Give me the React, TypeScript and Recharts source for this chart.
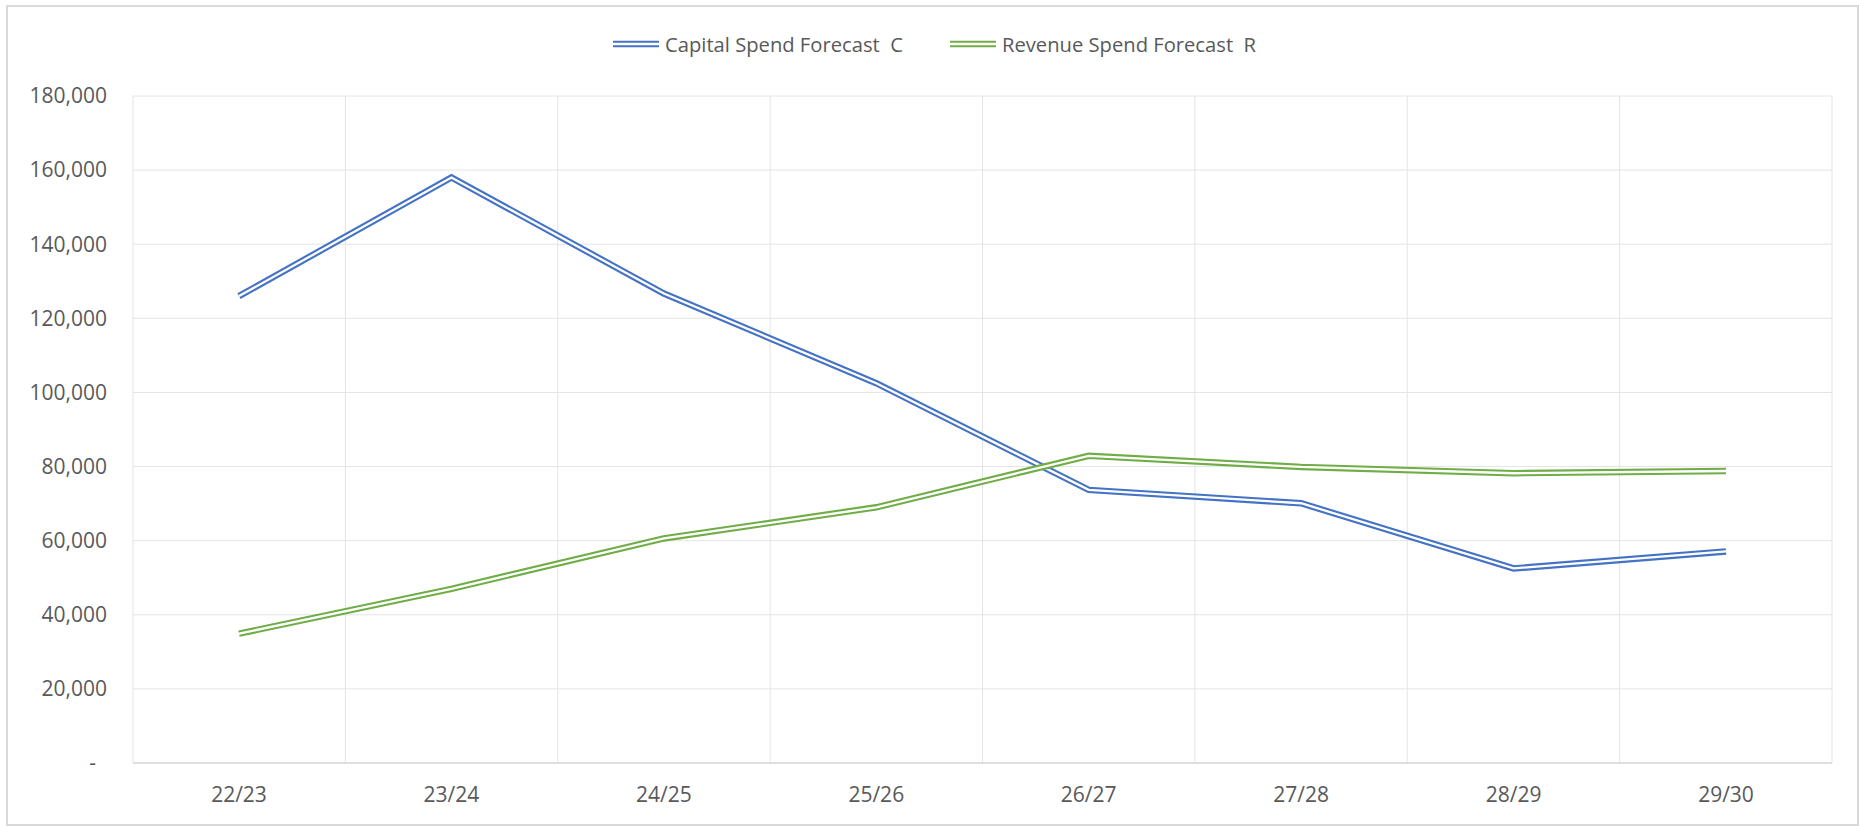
import { CartesianGrid, Line, LineChart, XAxis, YAxis } from "recharts";

const categories = ["22/23", "23/24", "24/25", "25/26", "26/27", "27/28", "28/29", "29/30"];
const capitalSpend = [126000, 158000, 126700, 102500, 73700, 70100, 52500, 57100];
const revenueSpend = [34900, 47000, 60600, 69000, 82900, 79900, 78200, 78800];
const yTicks = [0, 20000, 40000, 60000, 80000, 100000, 120000, 140000, 160000, 180000];
const seriesNames = ["Capital Spend Forecast  C", "Revenue Spend Forecast  R"];
const seriesColors = ["#4472C4", "#70AD47"];

const data = categories.map((period, i) => ({
  period,
  capital: capitalSpend[i],
  revenue: revenueSpend[i],
}));

const FONT = "'Open Sans', 'Noto Sans', sans-serif";
const INK = "#595959";

function fmt(v: number) {
  return v === 0 ? "-" : v.toLocaleString("en-US");
}

function YTick(props: any) {
  const { x, y, payload } = props;
  return (
    <text
      x={payload.value === 0 ? x - 11 : x}
      y={y}
      dy="0.35em"
      textAnchor="end"
      fill={INK}
      fontSize={21}
      fontFamily={FONT}
    >
      {fmt(payload.value)}
    </text>
  );
}

function Swatch({ color }: { color: string }) {
  return (
    <svg width={46} height={8} style={{ marginRight: 6, display: "block" }}>
      <line x1={0} x2={46} y1={4} y2={4} stroke={color} strokeWidth={6.5} />
      <line x1={0} x2={46} y1={4} y2={4} stroke="#fff" strokeWidth={2.3} />
    </svg>
  );
}

export default function App() {
  return (
    <div style={{ position: "absolute", left: 0, top: 0, width: 1859, height: 826, background: "#fff" }}>
      <div
        style={{
          position: "absolute",
          left: 6,
          top: 5,
          width: 1853,
          height: 821,
          border: "2px solid #d9d9d9",
          boxSizing: "border-box",
        }}
      />
      <div
        style={{
          position: "absolute",
          left: 613,
          top: 29,
          height: 30,
          display: "flex",
          alignItems: "center",
          gap: 47,
          fontFamily: FONT,
          fontSize: 20.2,
          color: INK,
          whiteSpace: "pre",
        }}
      >
        {seriesNames.map((name, i) => (
          <div key={name} style={{ display: "flex", alignItems: "center" }}>
            <Swatch color={seriesColors[i]} />
            <span>{name}</span>
          </div>
        ))}
      </div>
      <LineChart
        width={1859}
        height={826}
        data={data}
        margin={{ top: 96, right: 27, bottom: 0, left: 0 }}
        style={{ position: "absolute", left: 0, top: 0 }}
      >
        <CartesianGrid
          stroke="#e4e4e4"
          verticalCoordinatesGenerator={({ offset }: any) =>
            Array.from({ length: categories.length + 1 }, (_, i) => offset.left + (i * offset.width) / categories.length)
          }
        />
        <XAxis
          dataKey="period"
          height={63}
          padding={{ left: 106, right: 106 }}
          axisLine={{ stroke: "#d9d9d9", strokeWidth: 1.5 }}
          tickLine={false}
          tickSize={0}
          tickMargin={24}
          tick={{ fill: INK, fontSize: 21, fontFamily: FONT }}
        />
        <YAxis
          width={133}
          domain={[0, 180000]}
          ticks={yTicks}
          axisLine={false}
          tickLine={false}
          tickSize={0}
          tickMargin={26}
          tick={<YTick />}
        />
        <Line type="linear" dataKey="capital" stroke={seriesColors[0]} strokeWidth={6.5} dot={false} activeDot={false} isAnimationActive={false} />
        <Line type="linear" dataKey="capital" stroke="#fff" strokeWidth={2.3} dot={false} activeDot={false} isAnimationActive={false} />
        <Line type="linear" dataKey="revenue" stroke={seriesColors[1]} strokeWidth={6.5} dot={false} activeDot={false} isAnimationActive={false} />
        <Line type="linear" dataKey="revenue" stroke="#fff" strokeWidth={2.3} dot={false} activeDot={false} isAnimationActive={false} />
      </LineChart>
    </div>
  );
}
